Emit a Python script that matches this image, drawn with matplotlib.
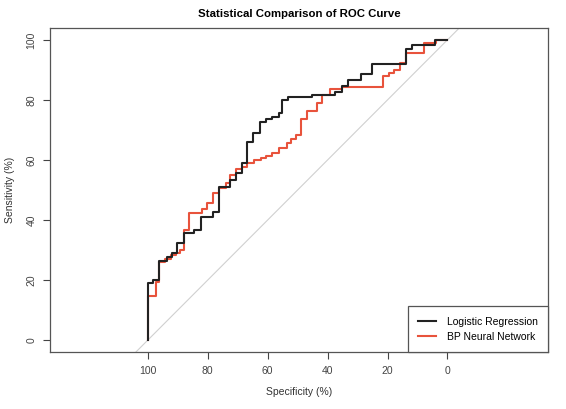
import matplotlib
matplotlib.use("Agg")
from matplotlib import pyplot as plt

plt.rcParams['font.family'] = ['Liberation Sans', 'DejaVu Sans']

# step corners of each ROC curve (specificity %, sensitivity %)
lr_spec = [100, 100, 98.1, 96.2, 93.7, 91.8, 90.1, 87.9, 84.6, 82.3, 78.4, 76.2, 72.6, 70.6,
           68.6, 66.8, 64.8, 62.6, 60.7, 58.4, 56.2, 55.1, 53.2, 45.1, 37.6, 35.2, 33.2, 29.0,
           25.1, 14.0, 11.8, 4.0, 0]
lr_sens = [0, 18.9, 20.0, 26.4, 27.8, 28.9, 32.2, 35.6, 36.7, 41.1, 42.8, 51.1, 53.3, 55.8,
           58.9, 66.1, 68.9, 72.8, 73.6, 74.4, 75.6, 80.0, 80.9, 81.7, 82.6, 84.7, 86.7, 88.7,
           92.0, 96.9, 98.3, 100, 100]

nn_spec = [100, 100, 97.3, 96.2, 94.2, 92.3, 90.7, 89.2, 87.9, 86.2, 81.8, 80.1, 78.1, 76.2,
           74.0, 72.6, 70.7, 68.6, 66.8, 64.6, 62.3, 60.7, 58.4, 56.2, 53.4, 52.3, 50.7, 49.0,
           47.0, 43.4, 41.8, 39.3, 35.1, 21.4, 19.6, 17.9, 15.9, 14.0, 7.9, 3.7, 0]
nn_sens = [0, 14.7, 19.5, 26.1, 26.9, 28.3, 29.1, 30.0, 36.7, 42.2, 43.6, 45.6, 48.9, 50.6,
           52.2, 55.0, 56.9, 57.8, 59.1, 60.0, 60.6, 61.3, 62.2, 63.9, 65.6, 66.9, 68.3, 73.6,
           76.4, 78.9, 81.7, 83.6, 84.4, 87.8, 88.9, 90.0, 92.4, 95.6, 98.9, 99.8, 99.8]

ticks = [100, 80, 60, 40, 20, 0]

fig = plt.figure(figsize=(5.66, 4.09), dpi=100)
ax = fig.add_axes([0.089, 0.139, 0.879, 0.793])

ax.axline((100, 0), (0, 100), color='#d0d0d0', lw=0.8, zorder=1)
ax.plot(lr_spec, lr_sens, drawstyle='steps-post', color='#222222', lw=1.5,
        label='Logistic Regression', zorder=3)
ax.plot(nn_spec, nn_sens, drawstyle='steps-post', color='#e8533c', lw=1.5,
        label='BP Neural Network', zorder=2)

ax.set_xlim(132.5, -33.5)
ax.set_ylim(-4, 104)
ax.set_xticks(ticks)
ax.set_yticks(ticks)
ax.set_yticklabels([str(t) for t in ticks], rotation=90, va='center')
ax.tick_params(length=5, width=0.8, colors='#444444', labelsize=7.5, pad=5)
for s in ax.spines.values():
    s.set_color('#555555')
    s.set_linewidth(0.9)

ax.set_title('Statistical Comparison of ROC Curve', fontsize=8.2, fontweight='bold', pad=8)
ax.set_xlabel('Specificity (%)', fontsize=7.5, color='#333333', labelpad=8)
ax.set_ylabel('Sensitivity (%)', fontsize=7.5, color='#333333', labelpad=8)

leg = ax.legend(loc='lower right', fontsize=7.5, borderaxespad=0, fancybox=False,
                edgecolor='#555555', framealpha=1, handlelength=1.7, borderpad=1.0,
                labelspacing=0.5, handletextpad=1.0)
leg.get_frame().set_linewidth(0.9)

plt.savefig('out.png', dpi=100)
plt.close()
